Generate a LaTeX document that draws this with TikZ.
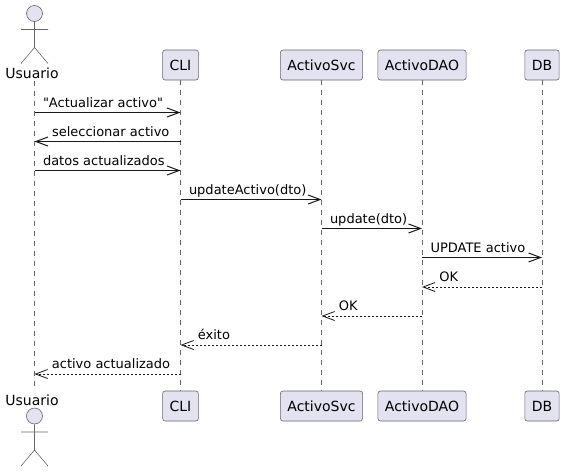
\documentclass[tikz,border=0pt]{standalone}
\usepackage{fontspec}
\setmainfont{DejaVu Sans}[Ligatures=TeXOff]
\usetikzlibrary{arrows.meta}
\definecolor{boxfill}{HTML}{E2E2F0}
\definecolor{boxline}{HTML}{181818}
\definecolor{thinline}{HTML}{666666}
\tikzset{
  lane/.style={draw=thinline, line width=0.6pt, fill=boxfill, rounded corners=2.5pt,
    minimum height=30pt, inner xsep=7pt, inner ysep=0pt, font=\fontsize{14}{16}\selectfont},
  who/.style={inner sep=0pt, font=\fontsize{14}{16}\selectfont},
  life/.style={thinline, line width=0.5pt, dash pattern=on 5pt off 5pt},
  send/.style={boxline, line width=1pt, -{Straight Barb[length=12pt,width=9pt,line width=1pt]}},
  back/.style={boxline, line width=0.8pt, dash pattern=on 2pt off 2pt,
    -{Straight Barb[length=12pt,width=9pt,line width=0.8pt]}},
  msg/.style={inner sep=0pt, anchor=base west, text=black, font=\fontsize{13}{15}\selectfont},
  stick/.pic={
    \node[circle, draw=thinline, line width=0.6pt, fill=boxfill, minimum size=16pt, inner sep=0pt] (-head) at (0,0) {};
    \draw[thinline, line width=0.6pt] (-head.south) -- (0,34) (-13.5,16) -- (13.5,16)
      (-13.5,50) -- (0,34) -- (13.5,50);
  }
}
\begin{document}
\begin{tikzpicture}[x=1pt,y=-1pt]
\useasboundingbox (0,0) rectangle (565,472);
% lifeline ends
\coordinate (usuarioT) at (34.5,81);
\coordinate (usuarioB) at (34.5,390);
% top row
\pic at (34.5,13.5) {stick};
\node[who] (usuarioL) at (32,73) {Usuario};
\node[lane] (cliT) at (180.5,65) {CLI};
\node[lane] (svcT) at (321.5,65) {ActivoSvc};
\node[lane] (daoT) at (422,65) {ActivoDAO};
\node[lane] (dbT) at (542,65) {DB};
% bottom row
\pic at (34.5,416) {stick};
\node[who] (usuarioM) at (32,400) {Usuario};
\node[lane] (cliB) at (180.5,406) {CLI};
\node[lane] (svcB) at (321.5,406) {ActivoSvc};
\node[lane] (daoB) at (422,406) {ActivoDAO};
\node[lane] (dbB) at (542,406) {DB};
% lifelines
\draw[life] (usuarioT) -- (usuarioB);
\foreach \n in {cli,svc,dao,db} \draw[life] (\n T) -- (\n B);
% rows
\foreach \i/\y in {1/112.5,2/141.5,3/170.5,4/199.5,5/228.5,6/257.5,7/287,8/316,9/345,10/374}
  \coordinate (r\i) at (0,\y);
\draw[send] (usuarioT |- r1) -- node[msg, pos=0, xshift=8pt, yshift=5.5pt] (m1) {"Actualizar activo"} (cliT |- r1);
\draw[send] (cliT |- r2) -- node[msg, pos=1, xshift=17pt, yshift=5.5pt] (m2) {seleccionar activo} (usuarioT |- r2);
\draw[send] (usuarioT |- r3) -- node[msg, pos=0, xshift=8pt, yshift=5.5pt] (m3) {datos actualizados} (cliT |- r3);
\draw[send] (cliT |- r4) -- node[msg, pos=0, xshift=8pt, yshift=5.5pt] (m4) {updateActivo(dto)} (svcT |- r4);
\draw[send] (svcT |- r5) -- node[msg, pos=0, xshift=8pt, yshift=5.5pt] (m5) {update(dto)} (daoT |- r5);
\draw[send] (daoT |- r6) -- node[msg, pos=0, xshift=8pt, yshift=5.5pt] (m6) {UPDATE activo} (dbT |- r6);
\draw[back] (dbT |- r7) -- node[msg, pos=1, xshift=17pt, yshift=5.5pt] (m7) {OK} (daoT |- r7);
\draw[back] (daoT |- r8) -- node[msg, pos=1, xshift=17pt, yshift=5.5pt] (m8) {OK} (svcT |- r8);
\draw[back] (svcT |- r9) -- node[msg, pos=1, xshift=17pt, yshift=5.5pt] (m9) {éxito} (cliT |- r9);
\draw[back] (cliT |- r10) -- node[msg, pos=1, xshift=17pt, yshift=5.5pt] (m10) {activo actualizado} (usuarioT |- r10);
\end{tikzpicture}
\end{document}
